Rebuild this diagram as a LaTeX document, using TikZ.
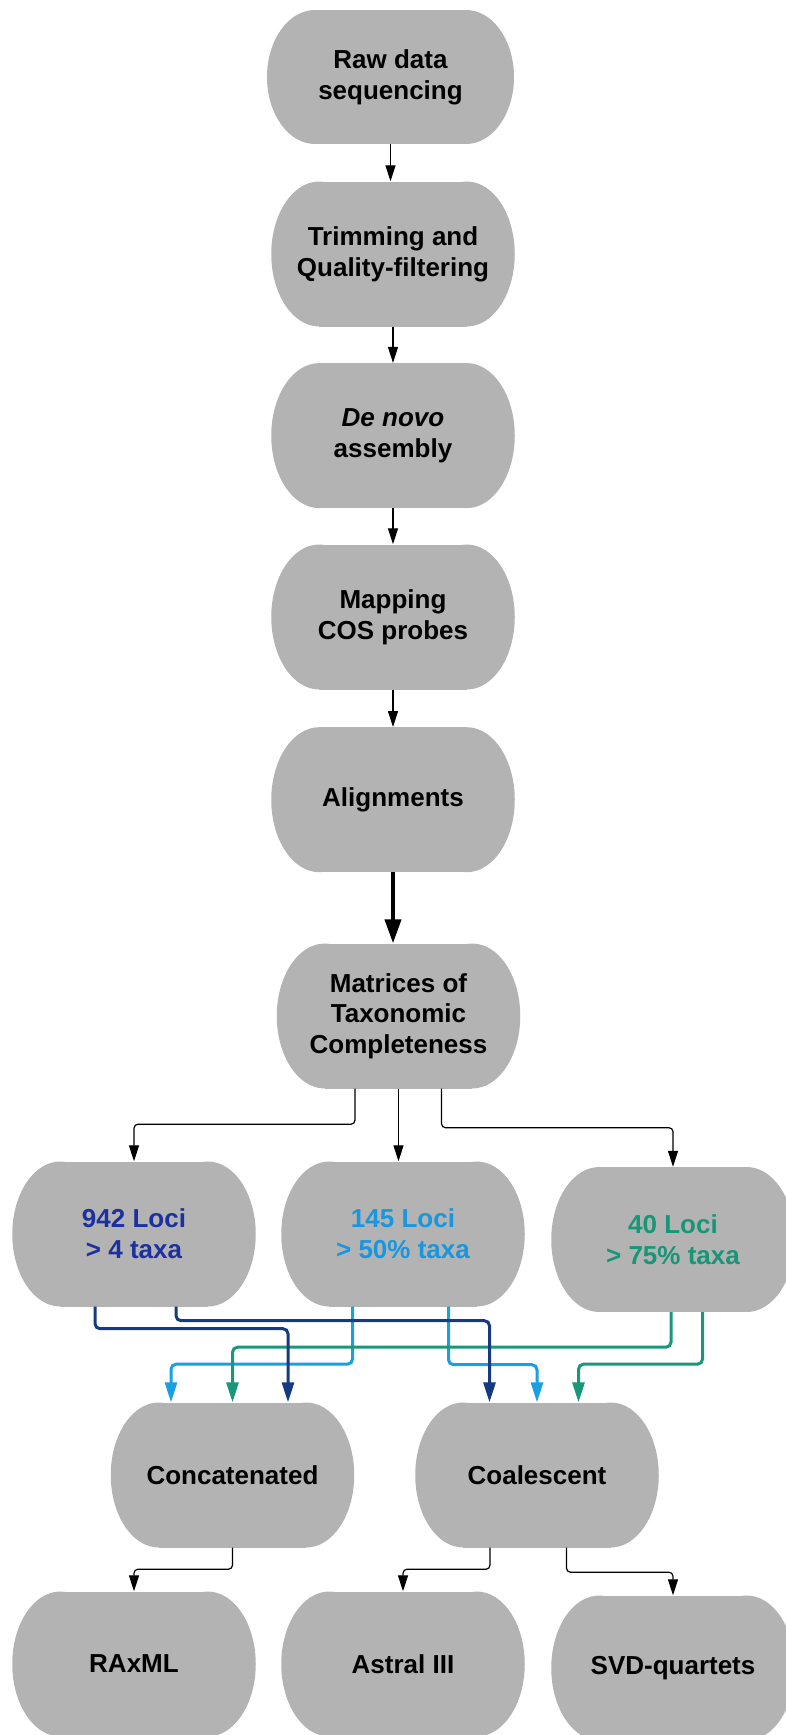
\documentclass[tikz,border=0pt]{standalone}
\usepackage{fontspec}
\setmainfont{Liberation Sans}
\usetikzlibrary{arrows.meta}
\definecolor{capgray}{RGB}{179,179,179}
\definecolor{navyline}{RGB}{22,58,128}
\definecolor{navytext}{RGB}{28,48,160}
\definecolor{skyline}{RGB}{27,158,226}
\definecolor{skytext}{RGB}{24,150,222}
\definecolor{tealline}{RGB}{26,150,122}
\definecolor{tealtext}{RGB}{23,150,120}
\def\capr{48}
\tikzset{
  captext/.style={align=center, inner sep=0pt, font=\bfseries\fontsize{26}{30.7}\selectfont},
  blk/.style={draw=black, line width=1.2pt, -{Triangle[length=16pt,width=10pt]}, rounded corners=4pt},
  bigarrow/.style={draw=black, line width=4pt, -{Triangle[length=24pt,width=16pt]}},
  colarrow/.style={line width=3pt, -{Triangle[length=20pt,width=12pt]}, rounded corners=5pt},
  navyarrow/.style={colarrow, draw=navyline, color=navyline},
  skyarrow/.style={colarrow, draw=skyline, color=skyline},
  tealarrow/.style={colarrow, draw=tealline, color=tealline}
}
% #1 node options, #2 name, #3 x, #4 y, #5 width, #6 height, #7 text
\newcommand\capsule[7][]{%
  \fill[capgray] ({#3-#5/2+\capr},{#4-#6/2}) rectangle ({#3+#5/2-\capr},{#4+#6/2});
  \fill[capgray] ({#3-#5/2+\capr},#4) ellipse [x radius=\capr, y radius={#6/2}];
  \fill[capgray] ({#3+#5/2-\capr},#4) ellipse [x radius=\capr, y radius={#6/2}];
  \node[captext, minimum width=#5pt, minimum height=#6pt, #1] (#2) at (#3,#4) {#7};
}
\begin{document}
\begin{tikzpicture}[x=1pt,y=-1pt]
\useasboundingbox (0,0) rectangle (786,1735);
\clip (0,0) rectangle (786,1735);

\capsule{n1}{390.5}{77}{247}{134}{Raw data\\sequencing}
\capsule{n2}{393}{254}{243.5}{145}{Trimming and\\Quality-filtering}
\capsule{n3}{393}{435.6}{243.5}{145}{\textit{De novo}\\assembly}
\capsule{n4}{393}{617}{243.5}{145}{Mapping\\COS probes}
\capsule{n5}{393}{799.7}{243.5}{145}{Alignments}
\capsule{n6}{398.5}{1016}{243.5}{145}{Matrices of\\Taxonomic\\Completeness}
\capsule[text=navytext]{n7}{134}{1234}{243.5}{145}{942 Loci\\> 4 taxa}
\capsule[text=skytext]{n8}{403}{1234}{243.5}{145}{145 Loci\\> 50\% taxa}
\capsule[text=tealtext]{n9}{673}{1239.5}{243.5}{145}{40 Loci\\> 75\% taxa}
\capsule{n10}{232.5}{1475}{243.5}{145}{Concatenated}
\capsule{n11}{537}{1475}{243.5}{145}{Coalescent}
\capsule{n12}{134}{1664}{243.5}{145}{RAxML}
\capsule{n13}{403}{1664}{243.5}{145}{Astral III}
\capsule{n14}{673}{1668}{243.5}{145}{SVD-quartets}

% main chain
\draw[blk] (n1.south) -- (n1.south |- n2.north);
\draw[blk] (n2.south) -- (n3.north);
\draw[blk] (n3.south) -- (n4.north);
\draw[blk] (n4.south) -- (n5.north);
\draw[bigarrow] (n5.south) -- (n5.south |- n6.north);

% matrices to loci
\draw[blk] ([xshift=-43.5pt]n6.south) -- ++(0,35.5) -| (n7.north);
\draw[blk] (n6.south) -- (n6.south |- n8.north);
\draw[blk] ([xshift=43pt]n6.south) -- ++(0,39) -| (n9.north);

% loci to analyses
\draw[skyarrow] ([xshift=-50.5pt]n8.south) -- ++(0,57.5) -| ([xshift=-61.5pt]n10.north);
\draw[skyarrow] ([xshift=45.5pt]n8.south) -- ++(0,58) -| (n11.north);
\draw[tealarrow] ([xshift=-2pt]n9.south) -- ++(0,35) -| (n10.north);
\draw[tealarrow] ([xshift=29.5pt]n9.south) -- ++(0,52) -| ([xshift=41.5pt]n11.north);
\draw[navyarrow] ([xshift=-39pt]n7.south) -- ++(0,22) -| ([xshift=55.5pt]n10.north);
\draw[navyarrow] ([xshift=42pt]n7.south) -- ++(0,14) -| ([xshift=-47.5pt]n11.north);

% analyses to programs
\draw[blk] (n10.south) -- ++(0,21.5) -| (n12.north);
\draw[blk] ([xshift=-47pt]n11.south) -- ++(0,21.5) -| (n13.north);
\draw[blk] ([xshift=29.5pt]n11.south) -- ++(0,24.5) -| (n14.north);
\end{tikzpicture}
\end{document}
